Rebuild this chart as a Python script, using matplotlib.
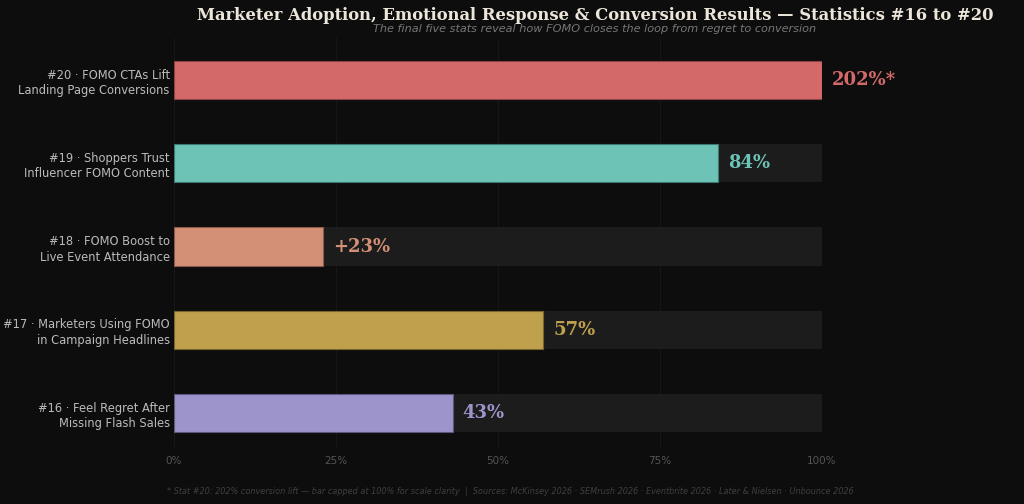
import matplotlib as mpl
import matplotlib.pyplot as plt

mpl.rcParams['font.family'] = 'DejaVu Sans'

# data
labels = [
    "#16 · Feel Regret After\nMissing Flash Sales",
    "#17 · Marketers Using FOMO\nin Campaign Headlines",
    "#18 · FOMO Boost to\nLive Event Attendance",
    "#19 · Shoppers Trust\nInfluencer FOMO Content",
    "#20 · FOMO CTAs Lift\nLanding Page Conversions",
]
values = [43, 57, 23, 84, 202]
value_text = ["43%", "57%", "+23%", "84%", "202%*"]
colors = ["#9e94cc", "#bfa04c", "#d49076", "#6cc3b6", "#d4696a"]
edges = ["#5e577d", "#7a6630", "#8a5c4a", "#3f7a70", "#8a4444"]
cap = 100
xticks = [0, 25, 50, 75, 100]

bg = '#0d0d0d'
fig = plt.figure(figsize=(10.24, 5.04), dpi=100, facecolor=bg)
ax = fig.add_axes([174 / 1024, 1 - 448 / 504, (822 - 174) / 1024, (448 - 38.4) / 504])
ax.set_facecolor(bg)

ypos = list(range(len(values)))
shown = [min(v, cap) for v in values]

for x in xticks:
    ax.axvline(x, color='#161616', linewidth=0.8, zorder=0)

ax.barh(ypos, [cap] * len(values), height=0.46, color='#1c1c1c', zorder=1)
ax.barh(ypos, shown, height=0.46, color=colors, edgecolor=edges,
        linewidth=0.8, zorder=2)

for y, s, t, c in zip(ypos, shown, value_text, colors):
    ax.text(s + 1.5, y, t, color=c, fontsize=13, fontweight='bold',
            family='DejaVu Serif', va='center', ha='left', clip_on=False, zorder=3)

ax.set_xlim(0, cap)
ax.set_ylim(-0.42, 4.5)
ax.set_yticks(ypos)
ax.set_yticklabels(labels, color='#bbbbbb', fontsize=8.3, linespacing=1.25)
ax.set_xticks(xticks)
ax.set_xticklabels([f"{x}%" for x in xticks], color='#555555', fontsize=7.5)
ax.tick_params(axis='both', length=0)
ax.tick_params(axis='y', pad=3)
ax.tick_params(axis='x', pad=6)
for sp in ax.spines.values():
    sp.set_visible(False)

fig.text(595 / 1024, 1 - 15 / 504,
         "Marketer Adoption, Emotional Response & Conversion Results — Statistics #16 to #20",
         ha='center', va='center', family='DejaVu Serif', fontweight='bold',
         fontsize=11.8, color='#ece6da')
fig.text(595 / 1024, 1 - 28.5 / 504,
         "The final five stats reveal how FOMO closes the loop from regret to conversion",
         ha='center', va='center', style='italic', fontsize=8.1, color='#777777')
fig.text(167 / 1024, 1 - 492 / 504,
         "* Stat #20: 202% conversion lift — bar capped at 100% for scale clarity  |  "
         "Sources: McKinsey 2026 · SEMrush 2026 · Eventbrite 2026 · Later & Nielsen · Unbounce 2026",
         ha='left', va='center', style='italic', fontsize=5.9, color='#3f3f3f')

fig.savefig('out.png', dpi=100, facecolor=bg)
